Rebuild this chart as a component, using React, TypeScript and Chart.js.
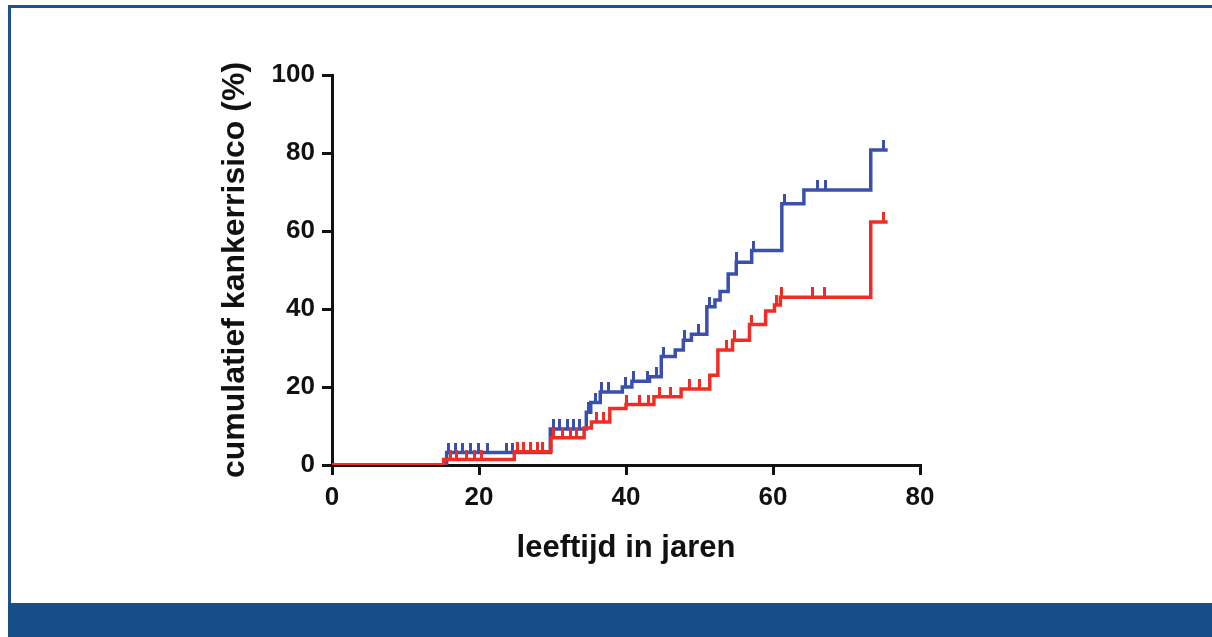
import React, { useEffect, useRef } from "react";
import { Chart, registerables } from "chart.js";

Chart.register(...registerables);

// ---- data ----
const xTickValues = [0, 20, 40, 60, 80];
const yTickValues = [0, 20, 40, 60, 80, 100];
const xTitle = "leeftijd in jaren";
const yTitle = "cumulatief kankerrisico (%)";

// blue group: ages (years) at which the cumulative risk steps up, and the level after the step
const blueStepAges = [0, 15.6, 29.7, 34.6, 35.2, 36.5, 39.5, 40.8, 43.2, 44.8, 46.7, 47.8, 48.9, 51.0, 52.1, 52.8, 53.9, 55.0, 57.1, 61.2, 64.2, 73.3, 75.6];
const blueStepRisk = [0, 3.2, 9.2, 13.5, 16, 18.7, 20, 21.5, 22.6, 27.8, 29.5, 32, 33.5, 40.6, 42.3, 44.5, 49, 52, 55, 67, 70.5, 80.8, 80.8];
const blueCensorAges = [15.8, 16.8, 17.8, 18.8, 19.9, 21.1, 23.8, 24.6, 30.1, 31.0, 32.0, 32.8, 33.7, 34.9, 35.8, 36.7, 37.6, 39.9, 41.0, 42.9, 44.2, 45.1, 48.0, 49.8, 51.4, 55.1, 57.4, 61.5, 66.0, 67.1, 75.0];

// red group
const redStepAges = [0, 15.2, 24.8, 29.8, 34.3, 35.3, 37.8, 40.0, 43.8, 47.5, 51.4, 52.5, 54.5, 56.8, 59.0, 60.2, 61.0, 73.3, 75.6];
const redStepRisk = [0, 1.4, 3.4, 7, 9.5, 11, 14.5, 15.5, 17.5, 19.5, 23, 29.5, 32, 36, 39.5, 41, 43, 62.3, 62.3];
const redCensorAges = [16.1, 17.0, 18.3, 19.4, 20.4, 25.2, 26.0, 27.0, 27.9, 28.7, 30.1, 31.4, 32.4, 33.3, 36.0, 36.9, 40.1, 41.9, 43.0, 44.6, 46.0, 48.7, 50.0, 53.7, 54.8, 57.1, 60.5, 61.2, 65.4, 67.0, 75.0];

const BLUE = "#3b50ae";
const RED = "#ee2e24";
const FRAME = "#1d5291";
const BAR = "#164e8a";
const INK = "#111111";
const FONT = '"Liberation Sans", Arial, Helvetica, sans-serif';

function levelAt(ages: number[], risk: number[], t: number): number {
  let v = 0;
  for (let i = 0; i < ages.length; i++) {
    if (ages[i] <= t) v = risk[i];
  }
  return v;
}

function makeTickMark(color: string): HTMLCanvasElement {
  const c = document.createElement("canvas");
  c.width = 3;
  c.height = 20;
  const g = c.getContext("2d");
  if (g) {
    g.fillStyle = color;
    g.fillRect(0, 0, 3, 10);
  }
  return c;
}

export default function App() {
  const ref = useRef<HTMLCanvasElement | null>(null);

  useEffect(() => {
    if (!ref.current) return;
    const blueMark = makeTickMark(BLUE);
    const redMark = makeTickMark(RED);

    const stepData = (ages: number[], risk: number[]) => ages.map((a, i) => ({ x: a, y: risk[i] }));
    const censorData = (c: number[], ages: number[], risk: number[]) =>
      c.map((a) => ({ x: a, y: levelAt(ages, risk, a) }));

    const chart = new Chart(ref.current, {
      type: "line",
      data: {
        datasets: [
          {
            type: "line",
            data: censorData(redCensorAges, redStepAges, redStepRisk),
            showLine: false,
            pointStyle: redMark as any,
            pointRadius: 5,
            borderColor: RED,
            backgroundColor: RED,
          },
          {
            type: "line",
            data: stepData(redStepAges, redStepRisk),
            stepped: true,
            borderColor: RED,
            borderWidth: 3.5,
            pointRadius: 0,
            fill: false,
          },
          {
            type: "line",
            data: censorData(blueCensorAges, blueStepAges, blueStepRisk),
            showLine: false,
            pointStyle: blueMark as any,
            pointRadius: 5,
            borderColor: BLUE,
            backgroundColor: BLUE,
          },
          {
            type: "line",
            data: stepData(blueStepAges, blueStepRisk),
            stepped: true,
            borderColor: BLUE,
            borderWidth: 3.5,
            pointRadius: 0,
            fill: false,
          },
        ] as any,
      },
      options: {
        animation: false,
        responsive: false,
        maintainAspectRatio: false,
        layout: { padding: { left: 216, top: 75, right: 292, bottom: 70 } },
        plugins: { legend: { display: false }, tooltip: { enabled: false } },
        scales: {
          x: {
            type: "linear",
            min: 0,
            max: 80,
            afterBuildTicks: (s: any) => {
              s.ticks = xTickValues.map((v) => ({ value: v }));
            },
            afterFit: (s: any) => {
              s.height = 102;
            },
            border: { display: true, color: INK, width: 3 },
            grid: { display: true, drawOnChartArea: false, drawTicks: true, tickLength: 10, color: INK, lineWidth: 3 },
            ticks: { color: INK, font: { family: FONT, size: 26, weight: "bold" }, padding: 7, maxRotation: 0 },
            title: { display: true, text: xTitle, color: INK, font: { family: FONT, size: 31, weight: "bold" }, padding: 0 },
          },
          y: {
            type: "linear",
            min: 0,
            max: 100,
            afterBuildTicks: (s: any) => {
              s.ticks = yTickValues.map((v) => ({ value: v }));
            },
            afterFit: (s: any) => {
              s.width = 116;
            },
            border: { display: true, color: INK, width: 3 },
            grid: { display: true, drawOnChartArea: false, drawTicks: true, tickLength: 10, color: INK, lineWidth: 3 },
            ticks: { color: INK, font: { family: FONT, size: 26, weight: "bold" }, padding: 7 },
            title: { display: true, text: yTitle, color: INK, font: { family: FONT, size: 32, weight: "bold" }, padding: 0 },
          },
        },
      } as any,
    });
    return () => chart.destroy();
  }, []);

  return (
    <div style={{ position: "absolute", left: 0, top: 0, width: 1212, height: 637, background: "#ffffff", overflow: "hidden" }}>
      <div style={{ position: "absolute", left: 8, top: 5, width: 1204, height: 3, background: FRAME }} />
      <div style={{ position: "absolute", left: 8, top: 5, width: 3, height: 598, background: FRAME }} />
      <div style={{ position: "absolute", left: 8, top: 603, width: 1204, height: 34, background: BAR }} />
      <canvas ref={ref} width={1212} height={637} style={{ position: "absolute", left: 0, top: 0, width: 1212, height: 637 }} />
    </div>
  );
}
